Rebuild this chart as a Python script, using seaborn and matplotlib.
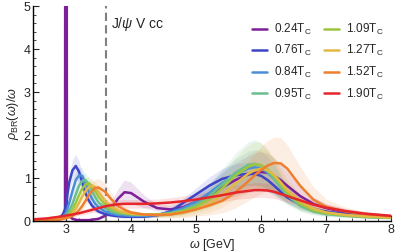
import numpy as np
import pandas as pd
import seaborn as sns
import matplotlib.pyplot as plt
from matplotlib.ticker import MultipleLocator

omega = [2.5, 2.7, 2.9, 2.95, 2.985, 3.0, 3.015, 3.05, 3.1, 3.15, 3.2, 3.25, 3.3, 3.35, 3.4,
         3.45, 3.5, 3.6, 3.7, 3.8, 3.9, 4.0, 4.2, 4.4, 4.6, 4.8, 5.0, 5.2, 5.4, 5.6, 5.8,
         5.9, 6.0, 6.1, 6.2, 6.3, 6.4, 6.6, 6.8, 7.0, 7.3, 7.6, 8.0]

labels = ['0.24', '0.76', '0.84', '0.95', '1.09', '1.27', '1.52', '1.90']
colors = ['#7d1f99', '#3d44c8', '#4a8fd6', '#69bf8f', '#9fc43f', '#e3b844', '#ef7f2e', '#e5262b']

rho_024 = [0.02, 0.03, 0.06, 0.1, 0.2, 30.0, 0.2, 0.12, 0.05, 0.03, 0.02, 0.02, 0.02, 0.02, 0.03,
           0.04, 0.05, 0.12, 0.3, 0.52, 0.67, 0.65, 0.45, 0.3, 0.27, 0.32, 0.45, 0.6, 0.78, 0.95, 1.08,
           1.12, 1.14, 1.12, 1.05, 0.95, 0.82, 0.58, 0.4, 0.3, 0.2, 0.15, 0.1]
rho_076 = [0.02, 0.03, 0.08, 0.15, 0.27, 0.4, 0.55, 0.9, 1.18, 1.28, 1.15, 0.9, 0.65, 0.48, 0.36,
           0.28, 0.22, 0.16, 0.13, 0.11, 0.1, 0.1, 0.1, 0.13, 0.22, 0.42, 0.62, 0.82, 0.98, 1.06, 1.1,
           1.09, 1.05, 0.95, 0.82, 0.68, 0.55, 0.38, 0.28, 0.22, 0.16, 0.12, 0.09]
rho_084 = [0.02, 0.03, 0.06, 0.1, 0.16, 0.2, 0.26, 0.42, 0.7, 0.95, 1.06, 1.05, 0.88, 0.68, 0.52,
           0.4, 0.32, 0.22, 0.17, 0.14, 0.13, 0.12, 0.12, 0.14, 0.2, 0.3, 0.45, 0.65, 0.88, 1.08, 1.22,
           1.25, 1.22, 1.12, 0.98, 0.8, 0.62, 0.38, 0.25, 0.18, 0.13, 0.1, 0.08]
rho_095 = [0.02, 0.03, 0.05, 0.08, 0.11, 0.13, 0.16, 0.24, 0.4, 0.62, 0.82, 0.93, 0.95, 0.86, 0.7,
           0.55, 0.43, 0.3, 0.22, 0.18, 0.16, 0.15, 0.14, 0.15, 0.18, 0.25, 0.38, 0.58, 0.85, 1.12, 1.3,
           1.33, 1.28, 1.15, 0.98, 0.78, 0.6, 0.35, 0.22, 0.16, 0.12, 0.09, 0.07]
rho_109 = [0.02, 0.03, 0.05, 0.07, 0.09, 0.1, 0.11, 0.16, 0.27, 0.42, 0.6, 0.75, 0.85, 0.88, 0.82,
           0.7, 0.56, 0.38, 0.27, 0.21, 0.18, 0.16, 0.15, 0.15, 0.17, 0.23, 0.33, 0.5, 0.76, 1.05, 1.26,
           1.32, 1.3, 1.2, 1.04, 0.85, 0.66, 0.4, 0.25, 0.18, 0.13, 0.1, 0.08]
rho_127 = [0.02, 0.03, 0.04, 0.06, 0.07, 0.08, 0.09, 0.12, 0.18, 0.28, 0.42, 0.57, 0.7, 0.79, 0.82,
           0.78, 0.68, 0.47, 0.33, 0.25, 0.2, 0.17, 0.15, 0.14, 0.15, 0.19, 0.27, 0.4, 0.6, 0.86, 1.1,
           1.18, 1.22, 1.18, 1.07, 0.9, 0.72, 0.45, 0.29, 0.2, 0.14, 0.11, 0.08]
rho_152 = [0.02, 0.02, 0.03, 0.05, 0.06, 0.07, 0.07, 0.09, 0.12, 0.17, 0.25, 0.35, 0.47, 0.6, 0.7,
           0.77, 0.78, 0.68, 0.5, 0.35, 0.26, 0.2, 0.15, 0.14, 0.15, 0.2, 0.27, 0.36, 0.47, 0.66, 0.92,
           1.06, 1.19, 1.29, 1.35, 1.34, 1.22, 0.82, 0.5, 0.33, 0.22, 0.16, 0.11]
rho_190 = [0.04, 0.06, 0.1, 0.11, 0.12, 0.13, 0.13, 0.14, 0.15, 0.17, 0.18, 0.2, 0.22, 0.24, 0.26,
           0.28, 0.3, 0.34, 0.37, 0.39, 0.4, 0.4, 0.4, 0.41, 0.43, 0.46, 0.5, 0.55, 0.6, 0.66, 0.7,
           0.72, 0.72, 0.71, 0.68, 0.63, 0.58, 0.48, 0.38, 0.31, 0.23, 0.17, 0.12]

err_024 = [0.01, 0.01, 0.02, 0.03, 0.05, 0.0, 0.05, 0.05, 0.04, 0.03, 0.03, 0.03, 0.03, 0.03, 0.03,
           0.03, 0.03, 0.06, 0.12, 0.2, 0.27, 0.25, 0.15, 0.08, 0.08, 0.12, 0.18, 0.25, 0.32, 0.38, 0.42,
           0.45, 0.46, 0.45, 0.42, 0.38, 0.32, 0.22, 0.15, 0.1, 0.07, 0.05, 0.04]
err_076 = [0.01, 0.01, 0.03, 0.05, 0.08, 0.12, 0.15, 0.2, 0.25, 0.27, 0.25, 0.2, 0.15, 0.1, 0.08,
           0.06, 0.05, 0.04, 0.04, 0.04, 0.04, 0.04, 0.04, 0.04, 0.06, 0.1, 0.15, 0.2, 0.24, 0.27, 0.27,
           0.26, 0.24, 0.22, 0.2, 0.17, 0.14, 0.1, 0.07, 0.05, 0.04, 0.03, 0.02]
err_084 = [0.01, 0.01, 0.02, 0.04, 0.06, 0.08, 0.1, 0.14, 0.18, 0.2, 0.2, 0.18, 0.15, 0.12, 0.1,
           0.08, 0.06, 0.05, 0.04, 0.04, 0.04, 0.04, 0.04, 0.05, 0.07, 0.1, 0.15, 0.22, 0.3, 0.36, 0.4,
           0.41, 0.4, 0.37, 0.32, 0.26, 0.2, 0.13, 0.08, 0.06, 0.04, 0.03, 0.02]
err_095 = [0.01, 0.01, 0.02, 0.03, 0.04, 0.05, 0.06, 0.08, 0.11, 0.14, 0.16, 0.17, 0.17, 0.15, 0.12,
           0.1, 0.08, 0.06, 0.05, 0.04, 0.04, 0.04, 0.04, 0.05, 0.07, 0.1, 0.15, 0.25, 0.35, 0.45, 0.54,
           0.56, 0.54, 0.48, 0.4, 0.3, 0.22, 0.13, 0.08, 0.06, 0.04, 0.03, 0.02]
err_109 = [0.01, 0.01, 0.02, 0.03, 0.03, 0.04, 0.05, 0.06, 0.08, 0.11, 0.13, 0.15, 0.16, 0.16, 0.15,
           0.13, 0.1, 0.07, 0.05, 0.04, 0.04, 0.04, 0.04, 0.05, 0.07, 0.1, 0.14, 0.22, 0.32, 0.42, 0.5,
           0.52, 0.52, 0.48, 0.42, 0.33, 0.25, 0.15, 0.09, 0.06, 0.04, 0.03, 0.02]
err_127 = [0.01, 0.01, 0.02, 0.03, 0.03, 0.03, 0.04, 0.05, 0.06, 0.08, 0.1, 0.12, 0.14, 0.15, 0.15,
           0.15, 0.13, 0.1, 0.07, 0.05, 0.04, 0.04, 0.04, 0.05, 0.06, 0.09, 0.13, 0.2, 0.28, 0.36, 0.44,
           0.46, 0.46, 0.44, 0.4, 0.33, 0.26, 0.16, 0.1, 0.06, 0.04, 0.03, 0.02]
err_152 = [0.01, 0.01, 0.02, 0.02, 0.03, 0.03, 0.03, 0.04, 0.05, 0.06, 0.08, 0.1, 0.12, 0.15, 0.18,
           0.2, 0.21, 0.2, 0.15, 0.1, 0.07, 0.05, 0.05, 0.06, 0.08, 0.12, 0.16, 0.22, 0.28, 0.36, 0.45,
           0.5, 0.55, 0.58, 0.6, 0.6, 0.55, 0.45, 0.3, 0.18, 0.1, 0.06, 0.04]
err_190 = [0.01, 0.02, 0.03, 0.03, 0.03, 0.03, 0.04, 0.04, 0.04, 0.05, 0.05, 0.06, 0.06, 0.07, 0.07,
           0.08, 0.08, 0.09, 0.1, 0.1, 0.1, 0.1, 0.1, 0.1, 0.11, 0.12, 0.13, 0.14, 0.15, 0.16, 0.17,
           0.17, 0.17, 0.17, 0.16, 0.15, 0.14, 0.12, 0.1, 0.08, 0.06, 0.05, 0.04]

rho = [rho_024, rho_076, rho_084, rho_095, rho_109, rho_127, rho_152, rho_190]
err = [err_024, err_076, err_084, err_095, err_109, err_127, err_152, err_190]

sns.set_style('ticks')
plt.rcParams['font.family'] = ['Liberation Sans', 'DejaVu Sans']
plt.rcParams['mathtext.fontset'] = 'custom'
plt.rcParams['mathtext.rm'] = 'Liberation Sans'
plt.rcParams['mathtext.it'] = 'Liberation Sans:italic'
plt.rcParams['mathtext.bf'] = 'Liberation Sans:bold'

names = [lab + r'T$_{\rm C}$' for lab in labels]
frames = []
for name, vals in zip(names, rho):
    frames.append(pd.DataFrame({'omega': omega, 'rho': vals, 'T': name}))
df = pd.concat(frames, ignore_index=True)

fig = plt.figure(figsize=(4.03, 2.52), dpi=100)
ax = fig.add_axes([0.083, 0.123, 0.888, 0.853])

w = np.array(omega)
for vals, e, c in zip(rho, err, colors):
    v = np.array(vals)
    e = np.array(e)
    ax.fill_between(w, np.clip(v - e, 0, None), v + e, color=c, alpha=0.13, lw=0)

sns.lineplot(data=df, x='omega', y='rho', hue='T', palette=colors, lw=1.8, ax=ax, sort=False)

ax.axvline(3.62, color='#808080', ls=(0, (4, 2)), lw=1.5, zorder=1)
ax.text(3.69, 4.58, r'J/$\psi$ V cc', fontsize=10, va='center')

ax.set_xlim(2.5, 8)
ax.set_ylim(0, 5)
ax.xaxis.set_major_locator(MultipleLocator(1))
ax.xaxis.set_minor_locator(MultipleLocator(0.2))
ax.yaxis.set_major_locator(MultipleLocator(1))
ax.yaxis.set_minor_locator(MultipleLocator(0.2))
ax.tick_params(which='both', direction='in', labelsize=9, pad=2)
ax.tick_params(which='major', length=4, width=0.8)
ax.tick_params(which='minor', length=2, width=0.6)
ax.set_xticks([3, 4, 5, 6, 7, 8])
for s in ['top', 'right']:
    ax.spines[s].set_visible(False)
for s in ['left', 'bottom']:
    ax.spines[s].set_color('black')
    ax.spines[s].set_linewidth(1.0)

ax.set_xlabel(r'$\omega$ [GeV]', fontsize=9, labelpad=1)
ax.set_ylabel(r'$\rho_{\rm BR}(\omega)/\omega$', fontsize=9, labelpad=2)

ax.legend(ncol=2, loc='upper right', bbox_to_anchor=(1.0, 0.96), frameon=False, fontsize=8.5,
          handlelength=1.3, handletextpad=0.6, columnspacing=1.0, labelspacing=0.55,
          borderaxespad=0.2)

plt.savefig('out.png', dpi=100)
